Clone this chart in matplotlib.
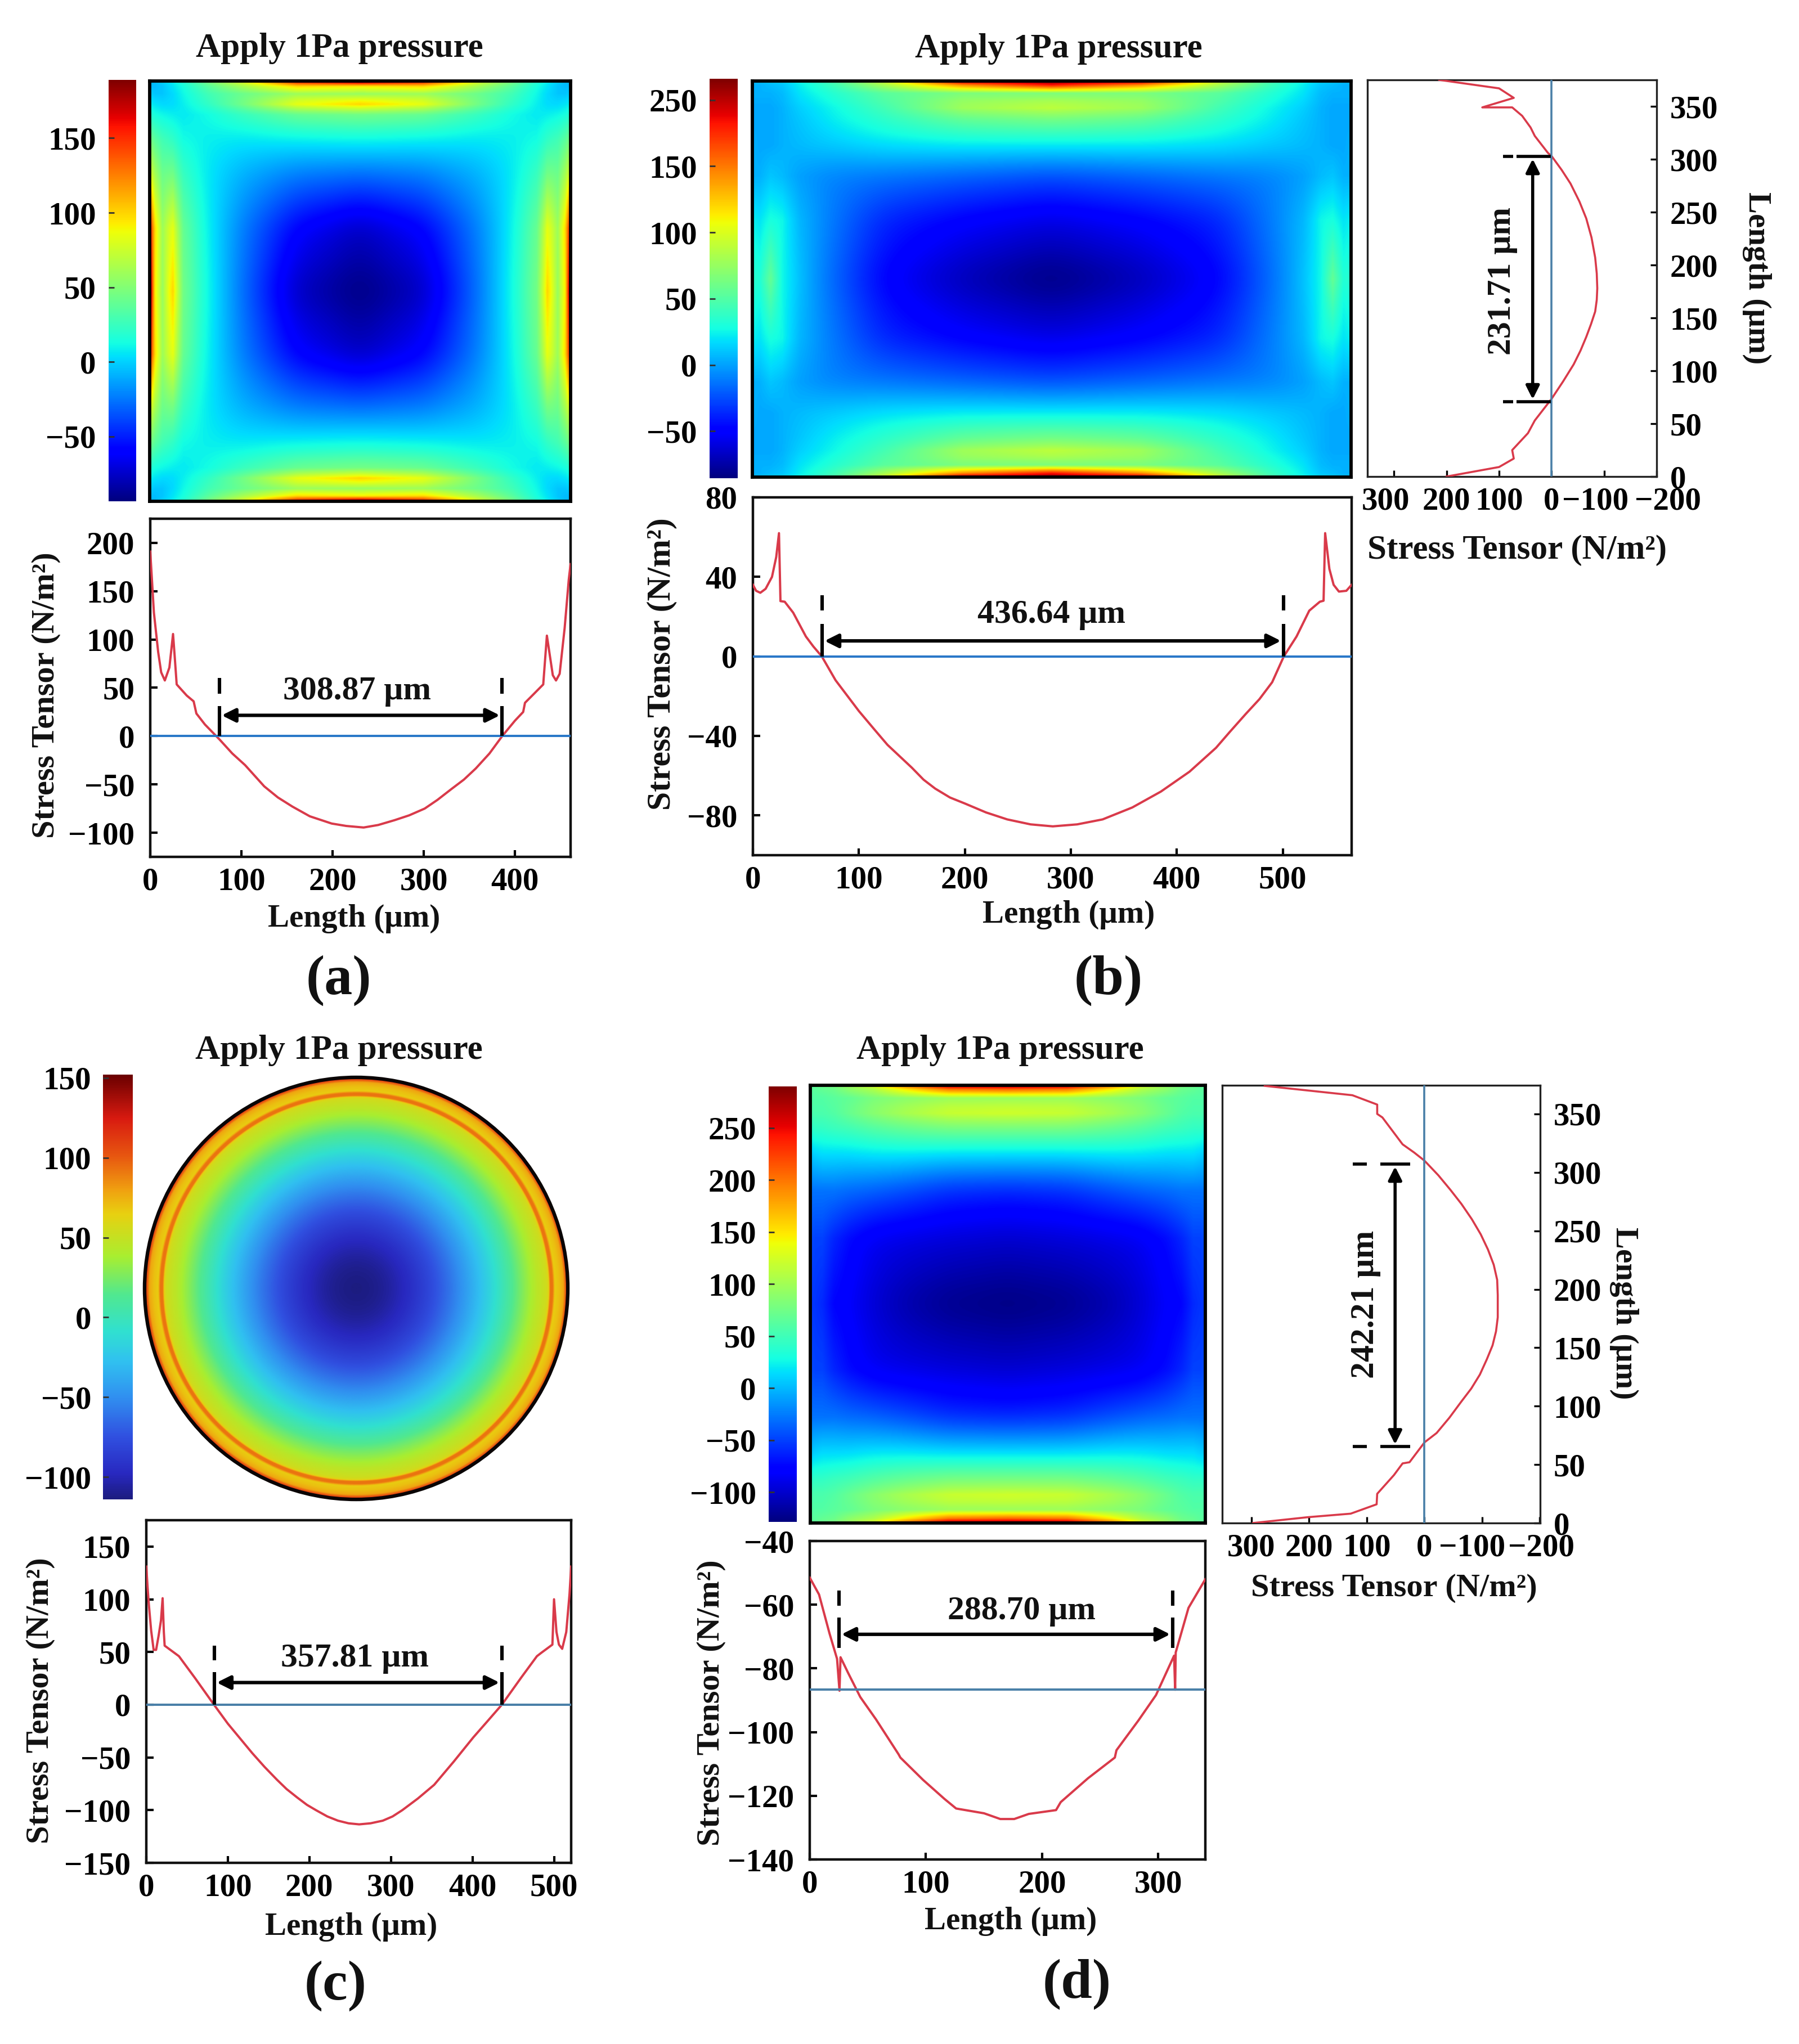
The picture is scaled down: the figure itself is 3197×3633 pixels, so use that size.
import numpy as np
import matplotlib
matplotlib.use("Agg")
import matplotlib.pyplot as plt
from matplotlib.cm import ScalarMappable
from matplotlib.colors import Normalize, LinearSegmentedColormap
from matplotlib.patches import Circle
from matplotlib.transforms import ScaledTranslation

plt.rcParams['font.family'] = ['Liberation Serif', 'DejaVu Serif']
plt.rcParams['font.weight'] = 'bold'
plt.rcParams['axes.unicode_minus'] = True

W, H = 3197, 3633

# ---------- line profiles (a) ----------
A_X = [0,4,8.7,12,16,21,25,27,29,40,47.6,50.6,60,76,90,104,125,140,156,175,199,215,234,250,268,284,301,315,330,344,357,372,386,400,409,411,420,431,435,438,441.5,445,449,454.5,459,461]
A_Y = [191,128,87,66,57.6,71,105.7,80,53.5,42,36,23.4,12,-3.5,-18,-30,-52,-63.5,-73,-83,-90.5,-93,-94.6,-92,-87,-82,-75,-66,-55,-45,-33.5,-18,0,16,25,34.5,43,53.5,104,85,63,57.6,64.5,112,162,178]
A_MARKS = [75.8, 386]
A_SEGS = [[0, 31], [44, 60]]
A_ARROW_Y = 21.5
A_TEXT = [227, 48.7]

# ---------- line profiles (b) ----------
B_X = [0,3,7,12,18,22,24.6,26,30,38,50,57,65,78,100,115,127,136,150,161,172,186,200,220,240,262,283,306,330,358,385,412,437,450,465,478,490,501,513,525,535,538.5,540,544,548,553,560,565]
B_Y = [36,33,32,34,40,50,62,27.8,27.5,22,10,5,0,-12,-27.5,-37,-44.5,-49,-56,-62,-66.5,-71,-74,-78.5,-82,-84.5,-85.5,-84.5,-82,-76,-68,-58,-46,-38,-29,-21.5,-13,0,10,23,27.5,28,62,44,36,32.6,33,36]
B_MARKS = [65.4, 500.5]
B_SEGS = [[0, 16.4], [23, 30.7]]
B_ARROW_Y = 7.8
B_TEXT = [281.5, 22]

# ---------- line profiles (c) ----------
C_X = [0,1.5,3,6,9,12,15,18,20,21.5,22.5,33,40,60,83,100,115,130,145,160,172,185,197,208,222,235,248,261,275,290,302,314,333,353,377,401,418,436,460,479,484,498,500,503,506,510,515,519,521]
C_Y = [131,112,96,70,52,52,65,80,101,69,56,50,46,25,0,-18,-32,-46,-59,-71,-80,-88,-95,-100,-106,-110,-112.5,-113.5,-112.5,-110,-106,-100,-89,-76,-54,-31,-16,0,26,46,49,57,100,69,57,53,69,105,131]
C_MARKS = [83.5, 436]
C_SEGS = [[0, 31], [42, 56]]
C_ARROW_Y = 21
C_TEXT = [256, 46]
C_FIELD_R = [.86,.89,.90,.908,.92,.93,.95,.97,.985,1.0]
C_FIELD_V = [48,54,60,92,92,66,70,78,110,140]

# ---------- line profiles (d) ----------
D_X = [0,8,17,23.5,25.6,26.5,33,43.5,57,76.5,78,97.5,116,126,150,164,176,188.5,212,216,239.5,262.6,264,283,298,313.6,314.5,315,326,340.5]
D_Y = [-51.5,-56.8,-69,-77,-87,-76.5,-81.4,-89,-96,-107,-108,-115,-121,-124,-125.5,-127.3,-127.3,-125.7,-124.5,-122,-114.5,-108,-105.7,-96.3,-88.4,-76,-86.7,-75,-61,-52]
D_BASE = -86.7
D_MARKS = [25.3, 312.3]
D_SEGS = [[-73.5, -64], [-60.3, -55.6]]
D_ARROW_Y = -69.3
D_TEXT = [182.4, -61.4]

# ---------- side profiles ----------
BS_X = [200,100,72,75,45,32,0,-22,-42,-55,-66,-75,-83,-86,-87,-86,-83,-76,-66,-53,-36,-19,0,7,32,40,56,75,132,72,100,214]
BS_Y = [0,9,17,25,41,53,73.5,90,106,119,132,144,156,167,178,192,207,226,244,260,277,290,303,306,322,330,341,349,349,358,367,375]
BS_MARKS = [70.8, 302.5]
BS_SEGS = [[1.6, 67], [73, 92]]
BS_ARROW_X = 36
BS_TEXT = [89, 185]

DS_X = [297,202,128,83,82,53,38,26,0,-21,-43,-64,-81,-96,-108,-118,-124,-127,-127,-126,-120,-110,-97.5,-82,-64,-45,-24,0,18,38,73,82,82,125,163,277]
DS_Y = [0,5,8,16,25,41,51,52,69,77,90,104,115,127,140,152,164,176,195,208,221,234,247,260,273,285,297.5,310,317,324,347,350,358,366,368,374]
DS_MARKS = [65.3, 307]
DS_SEGS = [[25, 77], [100, 124]]
DS_ARROW_X = 51
DS_TEXT = [98, 187]

# ---------- colour fields: quarter tables, fraction of the colour range ----------
FA_U = [0, .012, .03, .055, .08, .14, .22, .35, .5]
FA_V = [0, .012, .03, .055, .08, .14, .22, .35, .5]
FA_T = [[.30,.31,.33,.36,.40,.50,.62,.90,1.0],
        [.31,.31,.32,.35,.38,.46,.55,.68,.66],
        [.33,.32,.32,.34,.37,.43,.48,.54,.535],
        [.36,.35,.34,.34,.36,.41,.49,.64,.70],
        [.40,.38,.37,.36,.35,.37,.41,.46,.47],
        [.50,.46,.43,.41,.37,.36,.35,.36,.37],
        [.62,.55,.48,.49,.41,.35,.30,.25,.235],
        [.90,.68,.54,.64,.46,.36,.25,.12,.06],
        [1.0,.66,.535,.70,.47,.37,.235,.06,0]]
FB_U = [0, .012, .03, .05, .08, .14, .22, .35, .5]
FB_V = [0, .01, .03, .068, .1, .16, .24, .35, .5]
FB_T = [[.30,.31,.32,.33,.37,.45,.60,.95,1.0],
        [.30,.30,.31,.32,.36,.43,.55,.75,.88],
        [.30,.30,.30,.31,.35,.40,.46,.50,.50],
        [.29,.29,.29,.30,.33,.37,.43,.55,.59],
        [.29,.29,.29,.30,.32,.36,.40,.46,.48],
        [.30,.29,.29,.30,.31,.33,.35,.36,.36],
        [.30,.30,.32,.31,.28,.25,.24,.22,.20],
        [.36,.35,.38,.37,.30,.24,.16,.12,.09],
        [.40,.39,.47,.37,.31,.22,.12,.05,.0]]
FD_U = [0, .012, .03, .06, .1, .16, .24, .35, .5]
FD_V = [0, .01, .03, .065, .1, .16, .24, .35, .5]
FD_T = [[.46,.47,.48,.50,.54,.62,.80,.98,1.0],
        [.46,.46,.47,.48,.52,.56,.66,.78,.80],
        [.45,.45,.45,.46,.47,.50,.52,.54,.54],
        [.44,.44,.44,.45,.48,.52,.56,.60,.61],
        [.40,.41,.41,.42,.43,.45,.47,.49,.49],
        [.32,.33,.34,.34,.34,.35,.35,.34,.34],
        [.24,.24,.24,.24,.23,.22,.20,.17,.16],
        [.20,.19,.19,.16,.13,.10,.09,.08,.07],
        [.18,.175,.165,.125,.11,.075,.04,.012,0]]

# ---------- colour scales ----------
A_RANGE = [-93.4, 189]
B_RANGE = [-85.5, 216]
C_RANGE = [-114, 152]
D_RANGE = [-128.6, 290]
C_STOPS = [-114,-98,-75,-50,-28,-9,14,38,65,80,100,125,152]
C_COLORS = ['#1c1c80','#2828c0','#3050e0','#3090f0','#30c0f0','#30e0d0','#50e890',
            '#a8ee30','#e8d010','#f0a010','#e85a10','#d81a10','#6b0000']

TITLE = 'Apply 1Pa pressure'
XLABEL = 'Length (μm)'
YLABEL = 'Stress Tensor (N/m²)'
RED = '#d93a4a'
BLUE1 = '#2a78c8'
BLUE2 = '#4a80a8'

fig = plt.figure(figsize=(W/100, H/100), dpi=100, facecolor='white')


def axpx(x0, y0, x1, y1):
    return fig.add_axes([x0/W, 1-y1/H, (x1-x0)/W, (y1-y0)/H])


def txt(x, y, s, size=41, rot=0):
    fig.text(x/W, 1-y/H, s, ha='center', va='center', fontsize=size, rotation=rot,
             fontweight='bold', color='#111111')


def box(a, k):
    # running mean along the last axis, with the ends held
    pad = np.concatenate([np.repeat(a[..., :1], k, axis=-1), a, np.repeat(a[..., -1:], k, axis=-1)], axis=-1)
    c = np.cumsum(pad, axis=-1)
    out = (c[..., 2*k:] - c[..., :-2*k]) / (2*k)
    return out[..., :a.shape[-1]]


def expand(u, v, t, n=900):
    t = np.array(t, float)
    uf = np.linspace(0, 1, n)
    vf = np.linspace(0, 1, n)
    fu = np.minimum(uf, 1-uf)
    fv = np.minimum(vf, 1-vf)
    rows = np.array([np.interp(fu, u, r) for r in t])
    z = np.array([np.interp(fv, v, rows[:, j]) for j in range(n)]).T
    soft = z
    for _ in range(2):
        soft = box(soft, 28)
        soft = box(soft.T, 28).T
    edge = np.minimum.outer(fv, fu)
    w = np.clip((edge-.04)/.1, 0, 1)
    return w*soft + (1-w)*z


def heat(rect, u, v, t, rng, lw=4.2):
    ax = axpx(*rect)
    z = rng[0] + expand(u, v, t)*(rng[1]-rng[0])
    ax.imshow(z, cmap='jet', vmin=rng[0], vmax=rng[1], aspect='auto',
              interpolation='bilinear', origin='upper')
    ax.set_xticks([]); ax.set_yticks([])
    for s in ax.spines.values():
        s.set_linewidth(lw); s.set_color('black')
    return ax


def cbar(rect, rng, cmap, ticks, labels=None, pad=16):
    cax = axpx(*rect)
    sm = ScalarMappable(Normalize(*rng), cmap)
    cb = fig.colorbar(sm, cax=cax)
    cb.outline.set_visible(False)
    cax.yaxis.set_ticks_position('left')
    cb.set_ticks(ticks)
    if labels:
        cb.set_ticklabels(labels)
    cax.tick_params(axis='y', direction='in', length=7, width=2, left=True, right=False,
                    labelsize=41, pad=pad, color='#333333')


def line_panel(rect, xlim, ylim, xt, yt, X, Y, base, marks, segs, arrow_y, text, label, blue, lw=3.2):
    ax = axpx(*rect)
    ax.plot(X, Y, color=RED, lw=2.9, zorder=3, solid_joinstyle='round')
    ax.axhline(base, color=blue, lw=2.9, zorder=4)
    for m in marks:
        for a, b in segs:
            ax.plot([m, m], [a, b], color='black', lw=4.4, zorder=5, solid_capstyle='butt')
    ax.annotate('', xy=(marks[1], arrow_y), xytext=(marks[0], arrow_y),
                arrowprops=dict(arrowstyle='<|-|>', color='black', lw=4.4, mutation_scale=36,
                                shrinkA=3, shrinkB=3), zorder=6)
    ax.annotate(label, xy=(text[0], text[1]), xytext=(0, -3), textcoords='offset points',
                ha='center', va='center', fontsize=43, color='#111111')
    ax.set_xlim(*xlim); ax.set_ylim(*ylim)
    ax.set_xticks(xt); ax.set_yticks(yt)
    ax.tick_params(axis='y', direction='in', length=9, width=3, labelsize=41, pad=20)
    ax.tick_params(axis='x', direction='in', length=9, width=3, labelsize=41, pad=13)
    for s in ax.spines.values():
        s.set_linewidth(lw); s.set_color('#111111')
    return ax


def side_panel(rect, xlim, ylim, xt, yt, X, Y, marks, segs, arrow_x, text, label, blue, shifts):
    ax = axpx(*rect)
    ax.plot(X, Y, color=RED, lw=2.6, zorder=3, solid_joinstyle='round')
    ax.axvline(0, color=blue, lw=2.6, zorder=4)
    for m in marks:
        for a, b in segs:
            ax.plot([a, b], [m, m], color='black', lw=4, zorder=5, solid_capstyle='butt')
    ax.annotate('', xy=(arrow_x, marks[1]), xytext=(arrow_x, marks[0]),
                arrowprops=dict(arrowstyle='<|-|>', color='black', lw=4, mutation_scale=36,
                                shrinkA=3, shrinkB=3), zorder=6)
    ax.annotate(label, xy=(text[0], text[1]), xytext=(-3, 0), textcoords='offset points',
                ha='center', va='center', rotation=90, fontsize=43, color='#111111')
    ax.set_xlim(*xlim); ax.set_ylim(*ylim)
    ax.set_xticks(xt); ax.set_yticks(yt)
    ax.yaxis.tick_right()
    ax.tick_params(axis='y', direction='in', length=8, width=2.4, labelsize=41, pad=17)
    ax.tick_params(axis='x', direction='in', length=8, width=2.4, labelsize=41, pad=13)
    for s in ax.spines.values():
        s.set_linewidth(2.4); s.set_color('#222222')
    fig.canvas.draw()
    for lab, dx in zip(ax.get_xticklabels(), shifts):
        lab.set_transform(lab.get_transform() + ScaledTranslation(dx*0.01, 0, fig.dpi_scale_trans))
    return ax


# ===== (a) =====
txt(603, 86, TITLE, 44)
cbar((193, 142, 242, 891), A_RANGE, 'jet', [-50, 0, 50, 100, 150])
heat((266, 144, 1014, 891), FA_U, FA_V, FA_T, A_RANGE)
line_panel((267, 922, 1014, 1523), (0, 461), (-125, 225), [0, 100, 200, 300, 400],
           [-100, -50, 0, 50, 100, 150, 200], A_X, A_Y, 0, A_MARKS, A_SEGS, A_ARROW_Y, A_TEXT,
           '308.87 μm', BLUE1)
txt(629, 1633, XLABEL)
txt(82, 1236, YLABEL, 42, 90)
txt(602, 1743, '(a)', 72)

# ===== (b) =====
txt(1881, 87, TITLE, 44)
cbar((1261, 140, 1311, 850), B_RANGE, 'jet', [-50, 0, 50, 100, 150, 200],
     ['−50', '0', '50', '100', '150', '250'])
heat((1337, 144, 2401, 848), FB_U, FB_V, FB_T, B_RANGE)
line_panel((1338, 884, 2402, 1520), (0, 565), (-100, 80), [0, 100, 200, 300, 400, 500],
           [-80, -40, 0, 40, 80], B_X, B_Y, 0, B_MARKS, B_SEGS, B_ARROW_Y, B_TEXT,
           '436.64 μm', BLUE1)
txt(1899, 1626, XLABEL)
txt(1176, 1180, YLABEL, 43, 90)
txt(1970, 1743, '(b)', 72)
side_panel((2430, 142, 2944, 847), (350.7, -200), (0, 375), [300, 200, 100, 0, -100, -200],
           [0, 50, 100, 150, 200, 250, 300, 350], BS_X, BS_Y, BS_MARKS, BS_SEGS, BS_ARROW_X,
           BS_TEXT, '231.71 μm', BLUE2, [-15, 0, 0, 0, -16, 20])
txt(2696, 978, YLABEL, 44)
txt(3122, 494, XLABEL, 41, 270)

# ===== (c) =====
txt(602, 1867, TITLE, 44)
c_pos = [(v-C_RANGE[0])/(C_RANGE[1]-C_RANGE[0]) for v in C_STOPS]
c_cmap = LinearSegmentedColormap.from_list('c', list(zip(c_pos, C_COLORS)))
cbar((183, 1910, 236, 2665), C_RANGE, c_cmap, [-100, -50, 0, 50, 100, 150], pad=15)
ax_c = axpx(254, 1912, 1012, 2668)
ax_c.axis('off')
ax_c.set_xlim(0, 521); ax_c.set_ylim(0, 521)
gx = np.linspace(0, 521, 1000)
rr = np.hypot(*np.meshgrid(gx-260.5, gx-260.5))
zc = np.interp(261-rr, C_X, C_Y)
rf = rr/260.5
zc = np.where(rf > C_FIELD_R[0], np.interp(rf, C_FIELD_R, C_FIELD_V), zc)
im = ax_c.imshow(zc, extent=(0, 521, 0, 521), cmap=c_cmap, vmin=C_RANGE[0], vmax=C_RANGE[1],
                 aspect='auto', interpolation='bilinear')
ring = Circle((260.5, 260.5), 258.5, facecolor='none', edgecolor='#0a0505', lw=4.5, clip_on=False)
ax_c.add_patch(ring)
im.set_clip_path(ring)
ax_c.set_xlim(0, 521); ax_c.set_ylim(0, 521)
line_panel((260, 2702, 1015, 3311), (0, 521), (-150, 175), [0, 100, 200, 300, 400, 500],
           [-150, -100, -50, 0, 50, 100, 150], C_X, C_Y, 0, C_MARKS, C_SEGS, C_ARROW_Y, C_TEXT,
           '357.81 μm', BLUE2)
txt(624, 3425, XLABEL)
txt(72, 3023, YLABEL, 42, 90)
txt(596, 3530, '(c)', 72)

# ===== (d) =====
txt(1777, 1867, TITLE, 44)
cbar((1366, 1931, 1416, 2705), D_RANGE, 'jet', [-100, -50, 0, 50, 100, 150, 200, 250])
heat((1440, 1929, 2142, 2707), FD_U, FD_V, FD_T, D_RANGE)
line_panel((1439, 2739, 2142, 3305), (0, 340.5), (-140, -40), [0, 100, 200, 300],
           [-140, -120, -100, -80, -60, -40], D_X, D_Y, D_BASE, D_MARKS, D_SEGS, D_ARROW_Y, D_TEXT,
           '288.70 μm', BLUE2)
txt(1796, 3415, XLABEL)
txt(1264, 3027, YLABEL, 42, 90)
txt(1914, 3527, '(d)', 72)
side_panel((2172, 1929, 2737, 2707), (350.7, -200.5), (0, 374.5), [300, 200, 100, 0, -100, -200],
           [0, 50, 100, 150, 200, 250, 300, 350], DS_X, DS_Y, DS_MARKS, DS_SEGS, DS_ARROW_X,
           DS_TEXT, '242.21 μm', BLUE2, [0, 0, 0, 0, -18, 3])
txt(2477, 2823, YLABEL, 42)
txt(2886, 2334, XLABEL, 41, 270)

fig.savefig('out.png', dpi=100, facecolor='white')
